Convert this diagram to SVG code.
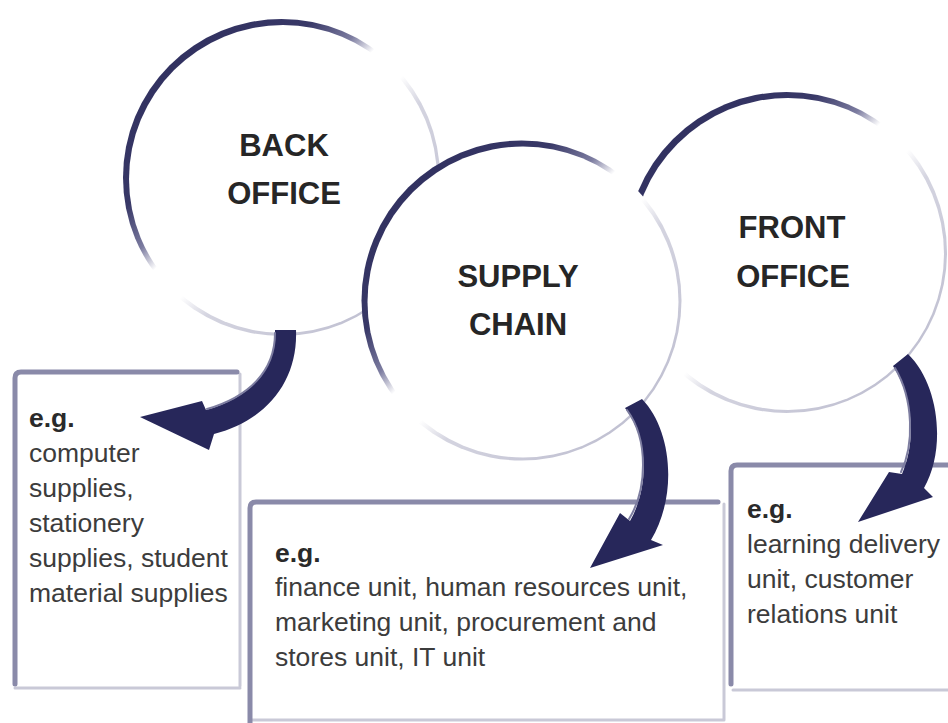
<svg xmlns="http://www.w3.org/2000/svg" width="948" height="723" viewBox="0 0 948 723">
  <defs>
    <!-- ring shading: dark upper-left, fading to white at the sides, light grey lower-right -->
    <linearGradient id="ring" x1="0" y1="0" x2="1" y2="1">
      <stop offset="0" stop-color="#2b2b5a"/>
      <stop offset="0.30" stop-color="#383867"/>
      <stop offset="0.39" stop-color="#7c7ca0"/>
      <stop offset="0.445" stop-color="#ffffff"/>
      <stop offset="0.53" stop-color="#ffffff"/>
      <stop offset="0.60" stop-color="#d4d4e0"/>
      <stop offset="1" stop-color="#b6b6ca"/>
    </linearGradient>
    <style>
      .title { font-family: "Liberation Sans", Arial, sans-serif; font-weight: bold; font-size: 31px; fill: #262626; text-anchor: middle; }
      .eg { font-family: "Liberation Sans", Arial, sans-serif; font-weight: bold; font-size: 26.5px; fill: #2a2a2a; }
      .body { font-family: "Liberation Sans", Arial, sans-serif; font-size: 26.5px; fill: #3c3c3c; }
      .edge-dark { stroke: #8a8aa9; stroke-width: 5; stroke-linecap: round; fill: none; }
      .edge-light { stroke: #c9c9d7; stroke-width: 3; stroke-linecap: round; fill: none; }
      .arrow { fill: #27275a; }
      .arrow-hi { fill: none; stroke: #7d7da0; stroke-width: 2; stroke-linecap: round; }
    </style>
  </defs>

  <rect width="948" height="723" fill="#ffffff"/>

  <!-- circles: supply chain drawn last so it sits over its neighbours -->
  <g id="back-office">
    <circle cx="281.5" cy="177.5" r="158.5" fill="url(#ring)"/>
    <circle cx="283" cy="179" r="154" fill="#ffffff"/>
    <text class="title" x="284" y="156">BACK</text>
    <text class="title" x="284" y="204">OFFICE</text>
  </g>

  <g id="front-office">
    <circle cx="786.5" cy="252.5" r="160.5" fill="url(#ring)"/>
    <circle cx="788" cy="254" r="156" fill="#ffffff"/>
    <text class="title" x="792" y="238">FRONT</text>
    <text class="title" x="793" y="287">OFFICE</text>
  </g>

  <g id="supply-chain">
    <circle cx="521.5" cy="300.5" r="160" fill="url(#ring)"/>
    <circle cx="523" cy="302" r="155.5" fill="#ffffff"/>
    <text class="title" x="518" y="287">SUPPLY</text>
    <text class="title" x="518" y="335">CHAIN</text>
  </g>

  <!-- example boxes -->
  <g id="back-office-examples">
    <path class="edge-light" d="M240 374 V686 M15 688 H240"/>
    <path class="edge-dark" d="M15 684 V378 Q15 372 21 372 H237"/>
    <text class="eg" x="29" y="427">e.g.</text>
    <text class="body" x="29" y="462">computer</text>
    <text class="body" x="29" y="497">supplies,</text>
    <text class="body" x="29" y="532">stationery</text>
    <text class="body" x="29" y="567">supplies, student</text>
    <text class="body" x="29" y="602">material supplies</text>
  </g>

  <g id="supply-chain-examples">
    <path class="edge-light" d="M724 504 V720 M252 720 H724"/>
    <path class="edge-dark" d="M250 723 V508 Q250 502 256 502 H718"/>
    <text class="eg" x="275" y="562">e.g.</text>
    <text class="body" x="275" y="596">finance unit, human resources unit,</text>
    <text class="body" x="275" y="631">marketing unit, procurement and</text>
    <text class="body" x="275" y="666">stores unit, IT unit</text>
  </g>

  <g id="front-office-examples">
    <path class="edge-light" d="M733 690 H948"/>
    <path class="edge-dark" d="M731 684 V471 Q731 465 737 465 H948"/>
    <text class="eg" x="747" y="518">e.g.</text>
    <text class="body" x="747" y="553">learning delivery</text>
    <text class="body" x="747" y="588">unit, customer</text>
    <text class="body" x="747" y="623">relations unit</text>
  </g>

  <!-- curved arrows from each circle to its box -->
  <g id="connectors">
    <path class="arrow" d="M275 330 L296 330 C298 380 268 420 214 434 L209 450 L140 417 L202 401 L206 410 C248 398 276 372 275 330 Z"/>
    <path class="arrow-hi" d="M207 409 C248 397 275 372 275 333"/>

    <path class="arrow" d="M625 408 L642 399 C672 430 678 495 651 540 L663 545 L590 568 L620 513 L630 521 C648 490 650 440 625 408 Z"/>
    <path class="arrow-hi" d="M629 519 C647 490 649 440 627 410"/>

    <path class="arrow" d="M893 366 L908 354 C940 385 946 450 924 488 L933 497 L858 522 L889 472 L902 474 C915 445 915 400 893 366 Z"/>
    <path class="arrow-hi" d="M901 472 C914 445 914 400 895 368"/>
  </g>
</svg>
